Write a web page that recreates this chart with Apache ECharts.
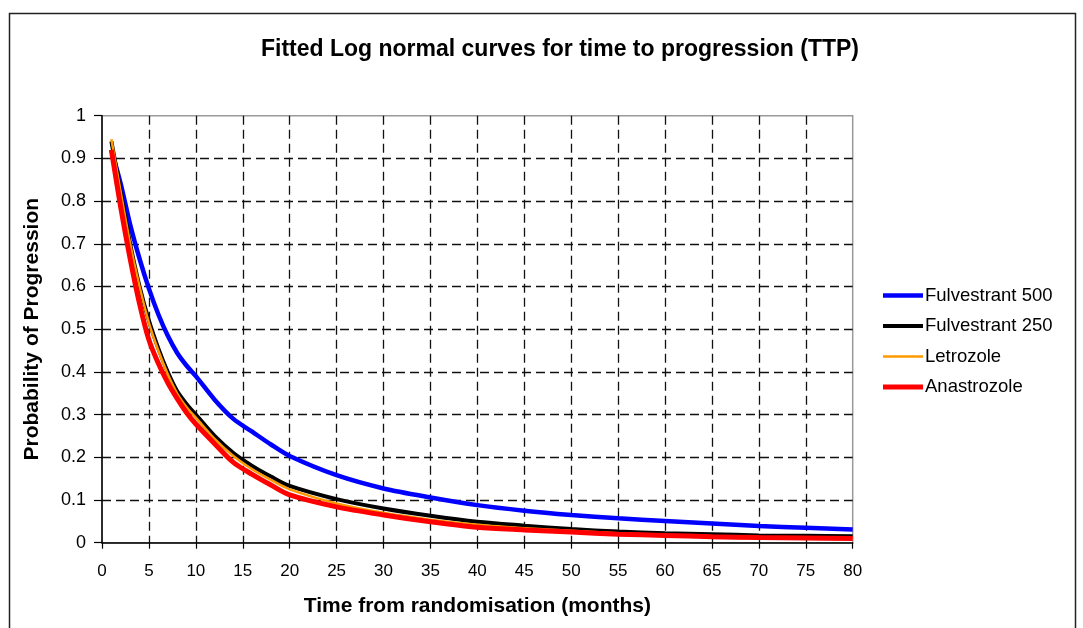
<!DOCTYPE html>
<html>
<head>
<meta charset="utf-8">
<script src="https://cdn.jsdelivr.net/npm/echarts@6/dist/echarts.min.js"></script>
<style>
html,body{margin:0;padding:0;background:#fff;}
#chart{width:1083px;height:628px;}
</style>
</head>
<body>
<div id="chart"></div>
<script>
const months = [1,2,3,4,5,6,7,8,9,10,12,14,16,18,20,25,30,35,40,45,50,55,60,65,70,75,80];
const fulvestrant500 = [0.92,0.84,0.745,0.665,0.595,0.535,0.485,0.445,0.415,0.39,0.335,0.29,0.26,0.23,0.203,0.158,0.127,0.106,0.088,0.075,0.065,0.057,0.051,0.045,0.039,0.035,0.031];
const fulvestrant250 = [0.94,0.82,0.70,0.60,0.52,0.455,0.40,0.355,0.325,0.30,0.25,0.21,0.18,0.155,0.133,0.102,0.080,0.063,0.049,0.040,0.032,0.026,0.022,0.020,0.017,0.016,0.015];
const letrozole = [0.945,0.82,0.70,0.60,0.515,0.45,0.395,0.35,0.318,0.293,0.243,0.203,0.172,0.147,0.125,0.092,0.070,0.054,0.042,0.034,0.028,0.022,0.018,0.015,0.013,0.012,0.011];
const anastrozole = [0.92,0.785,0.665,0.56,0.475,0.42,0.375,0.338,0.305,0.278,0.232,0.188,0.16,0.135,0.112,0.084,0.065,0.049,0.036,0.030,0.025,0.020,0.017,0.014,0.012,0.011,0.010];
const seriesNames = ['Fulvestrant 500','Fulvestrant 250','Letrozole','Anastrozole'];
const titleText = 'Fitted Log normal curves for time to progression (TTP)';
const xTitle = 'Time from randomisation (months)';
const yTitle = 'Probability of Progression';

const FONT = "'Liberation Sans', Arial, sans-serif";
const pairs = arr => months.map((m, i) => [m, arr[i]]);
const styles = [
  {color:'#0000ff', width:4.5},
  {color:'#000000', width:4},
  {color:'#ff9900', width:2.5},
  {color:'#ff0000', width:5}
];
const dataSets = [fulvestrant500, fulvestrant250, letrozole, anastrozole];

const chart = echarts.init(document.getElementById('chart'), null, {renderer:'canvas'});
chart.setOption({
  animation:false,
  backgroundColor:'#fff',
  title:{
    text:titleText, left:555, top:33, textAlign:'center',
    textStyle:{fontFamily:FONT, fontSize:23, fontWeight:'bold', color:'#000'}
  },
  graphic:[{
    type:'rect', silent:true, z:-1,
    shape:{x:9.5, y:13.5, width:1066, height:700},
    style:{fill:null, stroke:'#222', lineWidth:1.5}
  }],
  legend:{
    orient:'vertical', left:883, top:286, padding:0, itemWidth:40, itemHeight:20, itemGap:11.5,
    data:seriesNames.map((n, i) => ({
      name:n,
      icon:'path://M0,0H40V' + styles[i].width + 'H0Z',
      symbolKeepAspect:true
    })),
    textStyle:{fontFamily:FONT, fontSize:18.5, color:'#000', padding:[0,0,0,-3]}
  },
  grid:{
    left:102, top:115.7, right:230.3, bottom:85.3,
    outerBoundsMode:'none', containLabel:false,
    show:true, borderColor:'#9a9a9a', borderWidth:1.5, backgroundColor:'transparent'
  },
  xAxis:{
    type:'value', min:0, max:80, interval:5,
    name:xTitle, nameLocation:'middle', nameGap:53,
    nameTextStyle:{fontFamily:FONT, fontSize:21, fontWeight:'bold', color:'#000'},
    axisLine:{show:true, onZero:false, lineStyle:{color:'#000', width:1.5}},
    axisTick:{show:true, inside:false, length:6, lineStyle:{color:'#000', width:1.2}},
    axisLabel:{fontFamily:FONT, fontSize:17, color:'#000', margin:20},
    splitLine:{show:true, showMinLine:false, showMaxLine:false, lineStyle:{color:'#111', width:1.3, type:[9,5]}}
  },
  yAxis:{
    type:'value', min:0, max:1, interval:0.1,
    name:yTitle, nameLocation:'middle', nameGap:59,
    nameTextStyle:{fontFamily:FONT, fontSize:21, fontWeight:'bold', color:'#000'},
    axisLine:{show:true, onZero:false, lineStyle:{color:'#000', width:1.5}},
    axisTick:{show:true, inside:false, length:8, lineStyle:{color:'#000', width:1.2}},
    axisLabel:{fontFamily:FONT, fontSize:18, color:'#000', margin:16,
      formatter: v => (Math.round(v*10)/10).toString()},
    splitLine:{show:true, showMinLine:false, showMaxLine:false, lineStyle:{color:'#111', width:1.3, type:[9,5]}}
  },
  series: seriesNames.map((n, i) => ({
    name:n, type:'line', smooth:0.3, symbol:'none', showSymbol:false,
    data:pairs(dataSets[i]),
    z:2+i,
    itemStyle:{color:styles[i].color},
    lineStyle:{color:styles[i].color, width:styles[i].width}
  }))
});
</script>
</body>
</html>
